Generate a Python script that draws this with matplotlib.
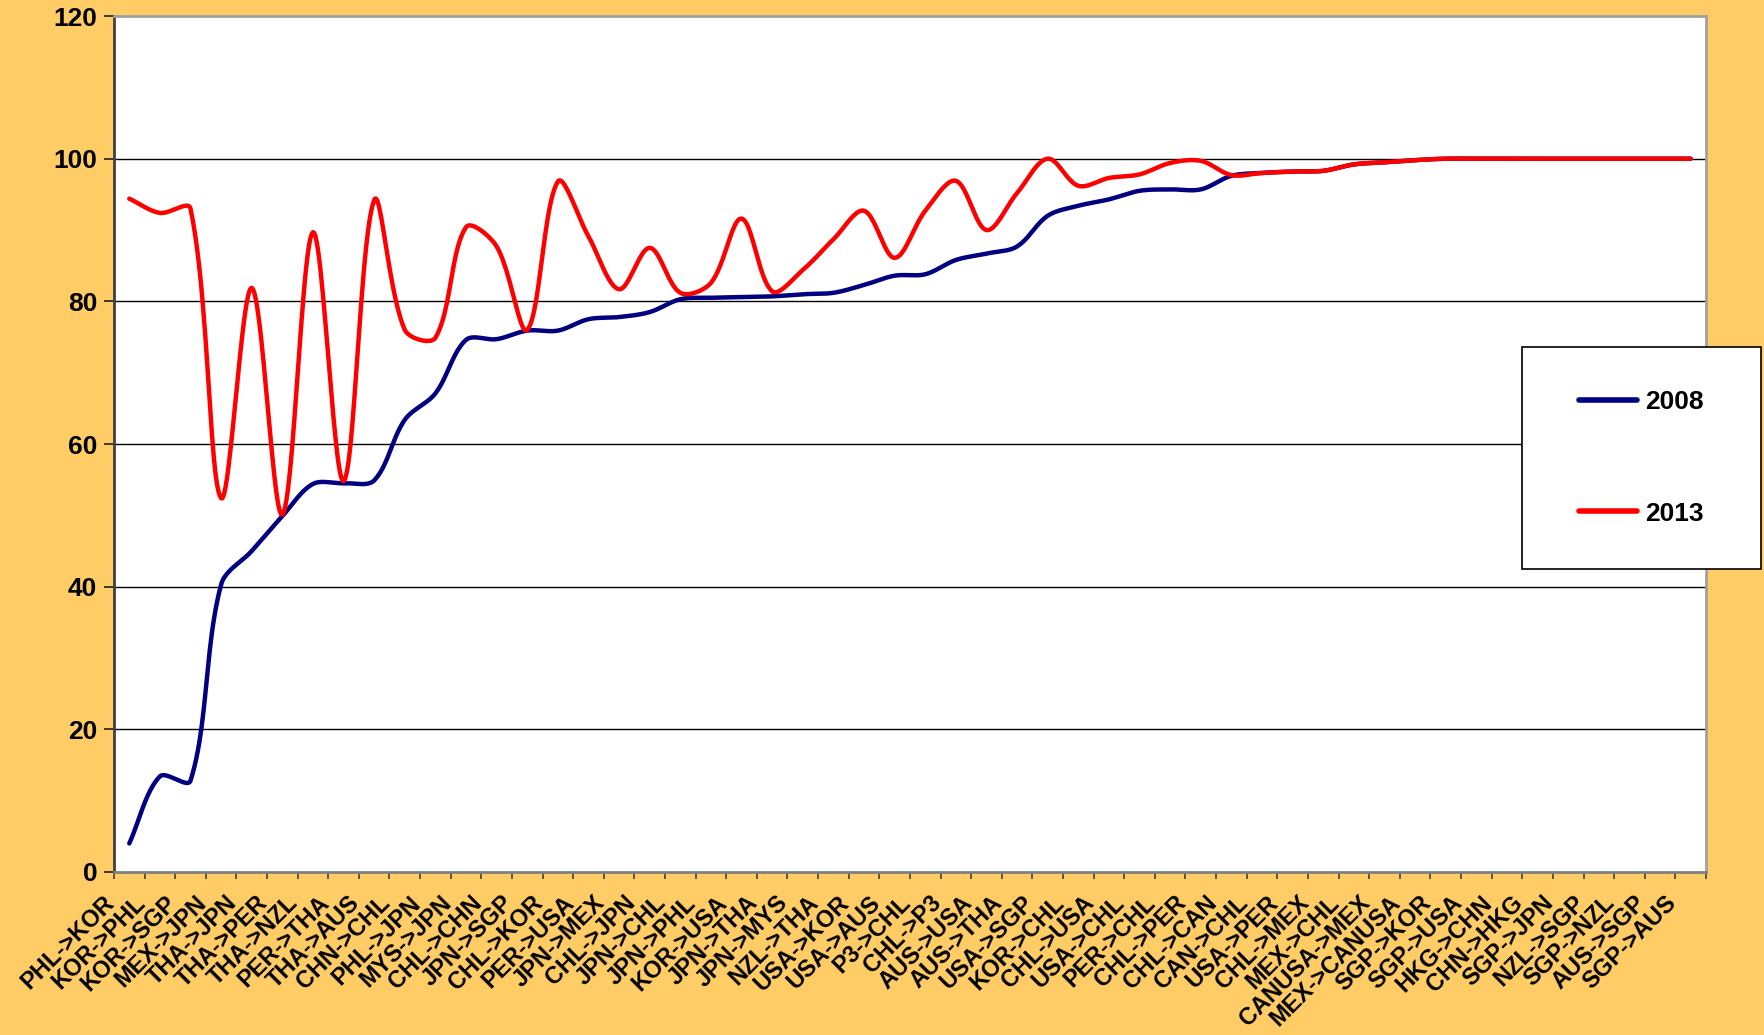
import numpy as np
import matplotlib
matplotlib.use("Agg")
import matplotlib.pyplot as plt
import matplotlib.transforms as mtransforms
from matplotlib.patches import Rectangle

plt.rcParams["font.family"] = ["Liberation Sans", "DejaVu Sans"]
plt.rcParams["font.weight"] = "bold"

routes = [
    "PHL->KOR", "KOR->PHL", "KOR->SGP", "MEX->JPN", "THA->JPN", "THA->PER",
    "THA->NZL", "PER->THA", "THA->AUS", "CHN->CHL", "PHL->JPN", "MYS->JPN",
    "CHL->CHN", "JPN->SGP", "CHL->KOR", "PER->USA", "JPN->MEX", "CHL->JPN",
    "JPN->CHL", "JPN->PHL", "KOR->USA", "JPN->THA", "JPN->MYS", "NZL->THA",
    "USA->KOR", "USA->AUS", "P3->CHL", "CHL->P3", "AUS->USA", "AUS->THA",
    "USA->SGP", "KOR->CHL", "CHL->USA", "USA->CHL", "PER->CHL", "CHL->PER",
    "CHL->CAN", "CAN->CHL", "USA->PER", "CHL->MEX", "MEX->CHL", "CANUSA->MEX",
    "MEX->CANUSA", "SGP->KOR", "SGP->USA", "HKG->CHN", "CHN->HKG", "SGP->JPN",
    "NZL->SGP", "SGP->NZL", "AUS->SGP", "SGP->AUS",
]

vals_2008 = [
    4.0, 13.4, 12.8, 40.3, 45.0, 49.9, 54.4, 54.5, 54.9, 63.4, 67.1, 74.6,
    74.7, 75.9, 75.9, 77.5, 77.8, 78.5, 80.3, 80.5, 80.6, 80.7, 81.0, 81.2,
    82.3, 83.6, 83.8, 85.8, 86.7, 87.7, 92.0, 93.4, 94.3, 95.5, 95.7, 95.7,
    97.6, 98.0, 98.2, 98.3, 99.2, 99.5, 99.8, 100, 100, 100, 100, 100,
    100, 100, 100, 100,
]

vals_2013 = [
    94.4, 92.4, 93.0, 52.4, 81.9, 50.1, 89.7, 54.8, 94.2, 76.0, 74.9, 90.4,
    87.7, 76.0, 96.8, 89.1, 81.7, 87.5, 81.2, 82.6, 91.6, 81.4, 84.4, 88.7,
    92.7, 86.1, 92.7, 96.9, 90.0, 95.2, 100.0, 96.2, 97.3, 97.8, 99.4, 99.7,
    97.7, 98.0, 98.2, 98.3, 99.2, 99.5, 99.8, 100, 100, 100, 100, 100,
    100, 100, 100, 100,
]


def smooth(y, sx=30.6, sy=7.125, n=24):
    # Excel-like smoothed line: bezier, tangents scaled by on-screen chord length
    y = np.asarray(y, dtype=float)
    x = np.arange(len(y), dtype=float)
    pts = np.column_stack([x * sx, y * sy])
    m = len(pts)
    d = np.hypot(*np.diff(pts, axis=0).T)
    t = np.linspace(0, 1, n, endpoint=False)[:, None]
    out = []
    for i in range(m - 1):
        p0, p3 = pts[i], pts[i + 1]
        if i > 0:
            tan0 = pts[i + 1] - pts[i - 1]
            c1 = p0 + tan0 * d[i] / (d[i - 1] + d[i]) / 3
        else:
            c1 = p0 + (p3 - p0) / 3
        if i + 2 < m:
            tan1 = pts[i + 2] - pts[i]
            c2 = p3 - tan1 * d[i] / (d[i] + d[i + 1]) / 3
        else:
            c2 = p3 - (p3 - p0) / 3
        seg = ((1 - t) ** 3) * p0 + 3 * ((1 - t) ** 2) * t * c1 \
            + 3 * (1 - t) * t ** 2 * c2 + t ** 3 * p3
        out.append(seg)
    out.append(pts[-1][None, :])
    out = np.vstack(out)
    return out[:, 0] / sx, out[:, 1] / sy


fig = plt.figure(figsize=(17.64, 10.35), dpi=100, facecolor="#FFCC66")
ax = fig.add_axes([0.0646, 0.1575, 0.9025, 0.827])
ax.set_facecolor("white")

x08, y08 = smooth(vals_2008)
x13, y13 = smooth(vals_2013)
ax.plot(x08, y08, color="#000080", lw=3.2, solid_capstyle="round", label="2008", zorder=3)
ax.plot(x13, y13, color="#FF0000", lw=3.2, solid_capstyle="round", label="2013", zorder=4)

ax.set_xlim(-0.5, len(routes) - 0.5)
ax.set_ylim(0, 120)
ax.set_yticks(np.arange(0, 121, 20))
for g in range(20, 101, 20):
    ax.axhline(g, color="black", lw=1.0, zorder=1)

ax.set_xticks(np.arange(len(routes)))
ax.set_xticklabels(routes, rotation=45, ha="right", va="top", fontsize=17, fontweight="bold")
ax.set_xticks(np.arange(-0.5, len(routes)), minor=True)
ax.tick_params(axis="x", which="major", length=0, pad=14)
ax.tick_params(axis="x", which="minor", length=5, width=1.2, color="#404040")
ax.tick_params(axis="y", length=7, width=1.2, color="#202020", pad=5, labelsize=19)
for lab in ax.get_yticklabels():
    lab.set_fontweight("bold")

shift = mtransforms.ScaledTranslation(-10 / 100, 0, fig.dpi_scale_trans)
for lab in ax.get_xticklabels():
    lab.set_transform(lab.get_transform() + shift)

ax.spines["left"].set_color("#404040")
ax.spines["left"].set_linewidth(2)
ax.spines["bottom"].set_color("#808080")
ax.spines["bottom"].set_linewidth(2)
ax.spines["top"].set_color("#A0A0A0")
ax.spines["top"].set_linewidth(2)
ax.spines["right"].set_color("#A0A0A0")
ax.spines["right"].set_linewidth(2)

# legend box
lx, ly, lw_, lh = 1522 / 1764, 1 - 569 / 1035, 239 / 1764, 222 / 1035
fig.add_artist(Rectangle((lx, ly), lw_, lh, transform=fig.transFigure,
                         facecolor="white", edgecolor="black", lw=1.2, zorder=5))
leg = fig.legend(loc="center", bbox_to_anchor=(lx, ly, lw_, lh),
                 frameon=False, handlelength=2.2, handletextpad=0.3,
                 labelspacing=3.3, borderpad=0,
                 prop={"weight": "bold", "size": 19})
leg.set_zorder(6)
for h in leg.get_lines():
    h.set_linewidth(4)

fig.savefig("out.png", dpi=100, facecolor=fig.get_facecolor())
